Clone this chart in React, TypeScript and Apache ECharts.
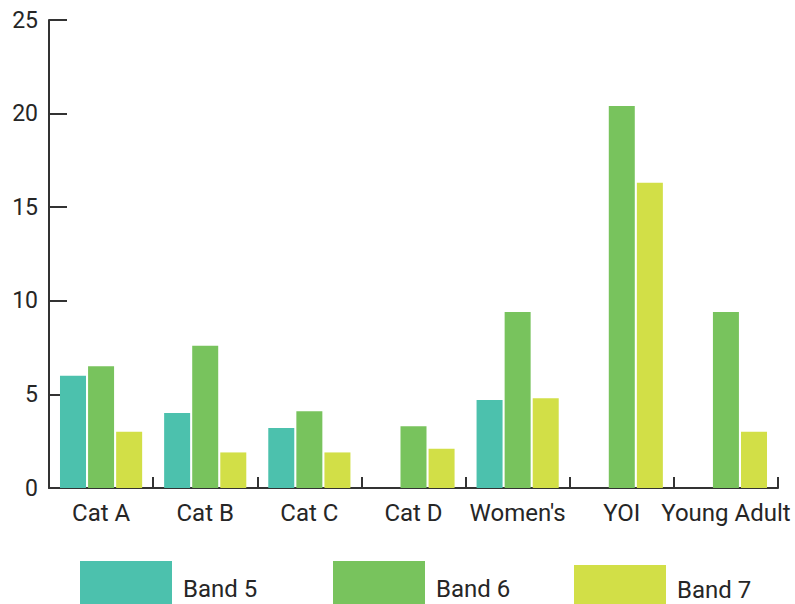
import React, { useEffect, useRef } from "react";
import * as echarts from "echarts";

const categories = ["Cat A", "Cat B", "Cat C", "Cat D", "Women's", "YOI", "Young Adult"];
const band5 = [6, 4, 3.2, null, 4.7, null, null];
const band6 = [6.5, 7.6, 4.1, 3.3, 9.4, 20.4, 9.4];
const band7 = [3, 1.9, 1.9, 2.1, 4.8, 16.3, 3];
const seriesNames = ["Band 5", "Band 6", "Band 7"];
const colors = ["#4CC1AD", "#78C35D", "#D2DF47"];

const FONT = "Roboto";
const TEXT = "#262626";
const AXIS = "#333333";

export default function App() {
  const ref = useRef<HTMLDivElement>(null);

  useEffect(() => {
    if (!ref.current) return;
    const chart = echarts.init(ref.current, undefined, { renderer: "svg" });
    const values = [band5, band6, band7];
    // legend swatches are tall and run past the bottom edge of the canvas
    const legendPos = [
      { left: 80, top: 561, h: 56 },
      { left: 333, top: 561, h: 56 },
      { left: 574, top: 565, h: 50 },
    ];
    chart.setOption({
      animation: false,
      textStyle: { fontFamily: FONT },
      grid: { left: 49, right: 17, top: 20, bottom: 116, containLabel: false },
      legend: seriesNames.map((name, i) => ({
        data: [name],
        left: legendPos[i].left,
        top: legendPos[i].top,
        itemWidth: 92,
        itemHeight: legendPos[i].h,
        itemGap: 0,
        padding: 0,
        icon: "rect",
        selectedMode: false,
        textStyle: {
          fontFamily: FONT,
          fontSize: 24,
          lineHeight: 22,
          color: TEXT,
          padding: [0, 0, 0, 6],
        },
      })),
      xAxis: {
        type: "category",
        data: categories,
        axisLine: { show: true, lineStyle: { color: AXIS, width: 2 } },
        axisTick: { show: true, inside: true, length: 11, lineStyle: { color: AXIS, width: 2 } },
        axisLabel: { interval: 0, fontFamily: FONT, fontSize: 24, color: TEXT, margin: 13 },
        splitLine: { show: false },
      },
      yAxis: {
        type: "value",
        min: 0,
        max: 25,
        interval: 5,
        axisLine: { show: true, lineStyle: { color: AXIS, width: 2 } },
        axisTick: { show: true, inside: true, length: 18, lineStyle: { color: AXIS, width: 2 } },
        axisLabel: { fontFamily: FONT, fontSize: 23, color: TEXT, margin: 11 },
        splitLine: { show: false },
      },
      series: seriesNames.map((name, i) => ({
        name,
        type: "bar",
        data: values[i],
        barWidth: 26,
        barGap: "8%",
        itemStyle: { color: colors[i] },
      })),
    });
    return () => chart.dispose();
  }, []);

  return (
    <div
      ref={ref}
      style={{ position: "absolute", left: 0, top: 0, width: 795, height: 604, background: "#fff" }}
    />
  );
}
